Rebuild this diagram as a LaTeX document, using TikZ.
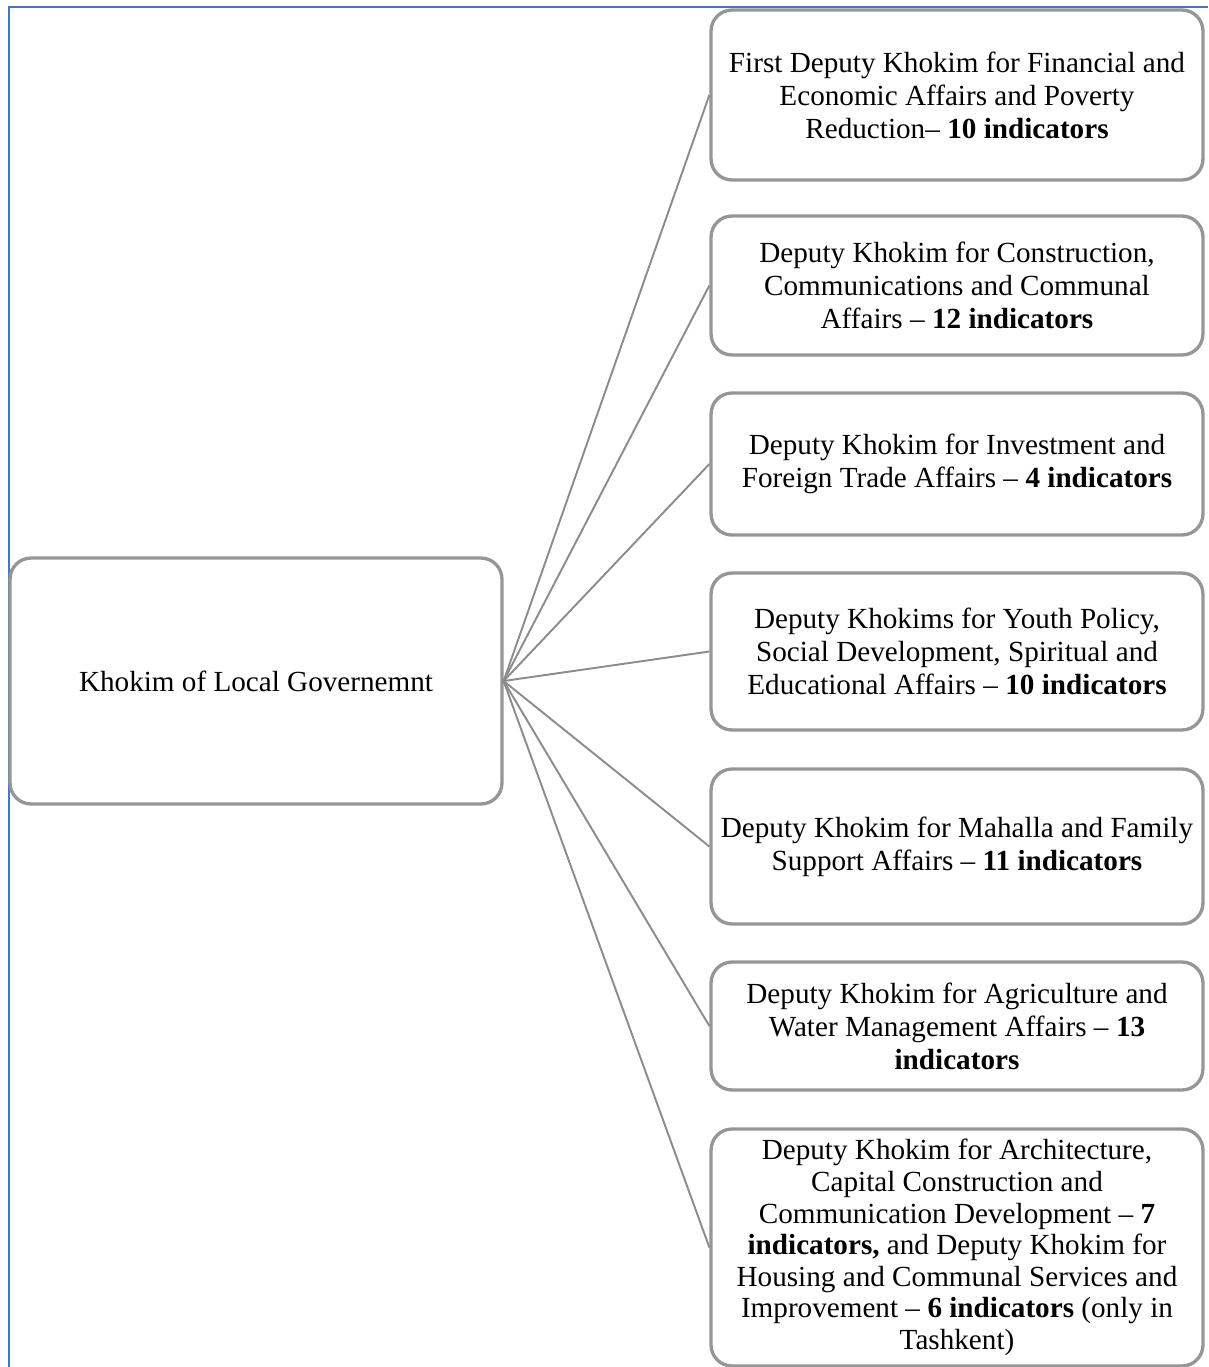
\documentclass[tikz,border=0pt]{standalone}
\usepackage{fontspec}
\setmainfont{Liberation Serif}
\usepackage{xcolor}
\definecolor{boxgray}{HTML}{969696}
\definecolor{linkgray}{HTML}{8C8C8C}
\definecolor{framebl}{HTML}{4A74C2}

\begin{document}
\begin{tikzpicture}[x=0.02cm,y=-0.02cm,font=\fontsize{16.6}{18.8}\selectfont,box/.style={draw=boxgray,line width=1.9pt,rounded corners=0.42cm,align=center,inner sep=0pt,minimum width=9.84cm,fill=white},link/.style={draw=linkgray,line width=1.1pt}]
\useasboundingbox (0,0) rectangle (1208,1367);
\draw[framebl,line width=1.2pt] (9,1367)--(9,7)--(1208,7);
\node[box,minimum height=4.92cm] (k) at (256,681) {Khokim of Local Governemnt};
\node[box,minimum height=3.4cm] (d1) at (957,95) {First Deputy Khokim for Financial and\\Economic Affairs and Poverty\\Reduction– \textbf{10 indicators}};
\node[box,minimum height=2.78cm] (d2) at (957,285.5) {Deputy Khokim for Construction,\\Communications and Communal\\Affairs – \textbf{12 indicators}};
\node[box,minimum height=2.84cm] (d3) at (957,464) {Deputy Khokim for Investment and\\Foreign Trade Affairs – \textbf{4 indicators}};
\node[box,minimum height=3.14cm] (d4) at (957,651.5) {Deputy Khokims for Youth Policy,\\Social Development, Spiritual and\\Educational Affairs – \textbf{10 indicators}};
\node[box,minimum height=3.1cm] (d5) at (957,846.5) {Deputy Khokim for Mahalla and Family\\Support Affairs – \textbf{11 indicators}};
\node[box,minimum height=2.56cm] (d6) at (957,1026) {Deputy Khokim for Agriculture and\\Water Management Affairs – \textbf{13}\\\textbf{indicators}};
\node[box,minimum height=4.74cm,font=\fontsize{16.6}{18}\selectfont] (d7) at (957,1247.5) {Deputy Khokim for Architecture,\\Capital Construction and\\Communication Development – \textbf{7}\\\textbf{indicators,} and Deputy Khokim for\\Housing and Communal Services and\\Improvement – \textbf{6 indicators} (only in\\Tashkent)};
\foreach \i in {1,...,7} \draw[link] (k.east)--(d\i.west);
\end{tikzpicture}
\end{document}
